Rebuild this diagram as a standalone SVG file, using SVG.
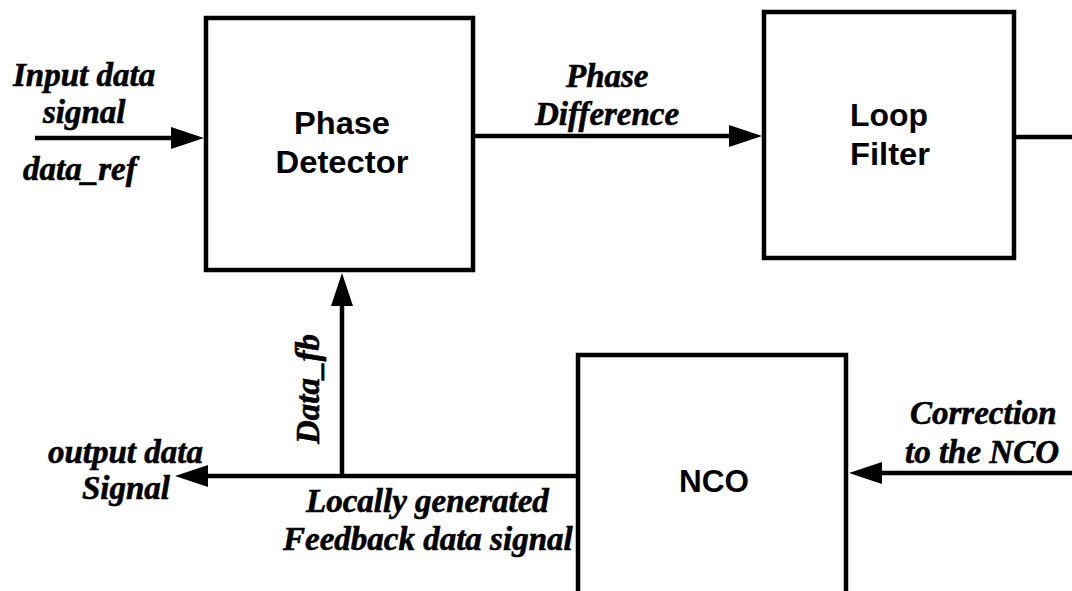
<svg xmlns="http://www.w3.org/2000/svg" width="1072" height="591" viewBox="0 0 1072 591">
  <style>
    .block { fill: #fff; stroke: #000; stroke-width: 4.5; }
    .wire { fill: none; stroke: #000; stroke-width: 4.5; }
    .title { font-family: "Liberation Sans", Arial, sans-serif; font-weight: bold; font-size: 31px; fill: #000; text-anchor: middle; }
    .sig { font-family: "Liberation Serif", "Times New Roman", serif; font-weight: bold; font-style: italic; font-size: 33px; fill: #000; stroke: #000; stroke-width: 0.6; }
  </style>
  <defs>
    <marker id="head" markerUnits="userSpaceOnUse" viewBox="0 0 33 22" markerWidth="33" markerHeight="22" refX="25" refY="11" orient="auto">
      <path d="M0,0 L33,11 L0,22 Z" fill="#000"/>
    </marker>
  </defs>
  <rect width="1072" height="591" fill="#fff"/>

  <!-- signal paths -->
  <g id="connectors">
    <line class="wire" x1="35" y1="138" x2="196" y2="138" marker-end="url(#head)"/>
    <line class="wire" x1="475" y1="136" x2="754" y2="136" marker-end="url(#head)"/>
    <line class="wire" x1="1016" y1="137" x2="1072" y2="137"/>
    <line class="wire" x1="1072" y1="473" x2="857" y2="473" marker-end="url(#head)"/>
    <line class="wire" x1="578" y1="476" x2="183" y2="476" marker-end="url(#head)"/>
    <line class="wire" x1="342" y1="476" x2="342" y2="281" marker-end="url(#head)"/>
  </g>

  <g id="phase-detector">
    <rect class="block" x="206" y="18" width="267" height="252"/>
    <text class="title" x="342" y="134" textLength="96" lengthAdjust="spacingAndGlyphs">Phase</text>
    <text class="title" x="342" y="173" textLength="133" lengthAdjust="spacingAndGlyphs">Detector</text>
  </g>

  <g id="loop-filter">
    <rect class="block" x="764" y="12" width="250" height="246"/>
    <text class="title" x="889" y="126" textLength="78" lengthAdjust="spacingAndGlyphs">Loop</text>
    <text class="title" x="890" y="165" textLength="80" lengthAdjust="spacingAndGlyphs">Filter</text>
  </g>

  <g id="nco">
    <rect class="block" x="578" y="355" width="268" height="262"/>
    <text class="title" x="714" y="492" textLength="70" lengthAdjust="spacingAndGlyphs">NCO</text>
  </g>

  <!-- signal labels -->
  <g id="labels">
    <text class="sig" x="13" y="86">Input data</text>
    <text class="sig" x="43" y="123">signal</text>
    <text class="sig" x="23" y="180">data_ref</text>
    <text class="sig" x="566" y="87">Phase</text>
    <text class="sig" x="535" y="125">Difference</text>
    <text class="sig" x="910" y="424">Correction</text>
    <text class="sig" x="905" y="463">to the NCO</text>
    <text class="sig" x="48" y="463">output data</text>
    <text class="sig" x="82" y="499">Signal</text>
    <text class="sig" x="306" y="512">Locally generated</text>
    <text class="sig" x="283" y="550">Feedback data signal</text>
    <text class="sig" transform="translate(319 389) rotate(-90)" text-anchor="middle">Data_fb</text>
  </g>
</svg>
